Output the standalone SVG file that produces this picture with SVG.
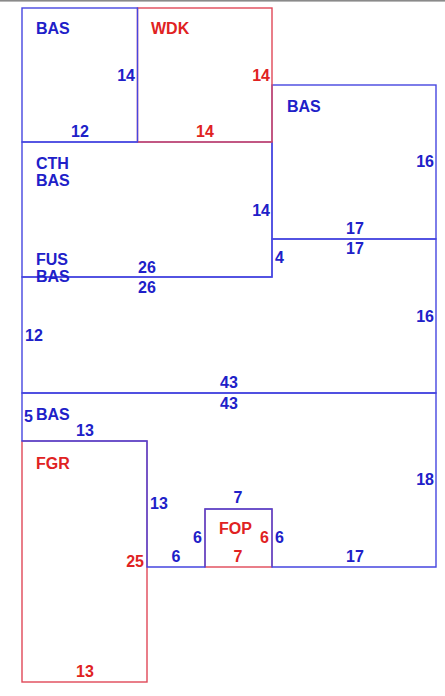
<svg xmlns="http://www.w3.org/2000/svg" width="445" height="696" viewBox="0 0 445 696">
<style>
.b{fill:none;stroke:#4646e0;stroke-width:1.4}
.r{fill:none;stroke:#e04858;stroke-width:1.4}
text{font-family:"Liberation Sans",Arial,sans-serif;font-size:16px;font-weight:bold}
.tb{fill:#2020c8}
.tr{fill:#e02222}
.m{text-anchor:middle}
.e{text-anchor:end}
</style>
<rect x="0" y="0" width="445" height="1.6" fill="#8a8a8a"/>
<g id="FGR">
<rect class="r" x="22" y="441" width="125" height="241"/>
<text class="tr" x="36" y="469">FGR</text>
<text class="tr m" x="85" y="677">13</text>
<text class="tr e" x="144" y="567">25</text>
</g>
<g id="FOP">
<rect class="r" x="205" y="509" width="67" height="58"/>
<text class="tr" x="219" y="534">FOP</text>
<text class="tr" x="260" y="543">6</text>
<text class="tr m" x="238" y="562">7</text>
</g>
<g id="BAS-right">
<rect class="b" x="272" y="85" width="164" height="154"/>
<text class="tb" x="287" y="112">BAS</text>
<text class="tb e" x="434" y="167">16</text>
<text class="tb m" x="355" y="234">17</text>
</g>
<g id="CTH">
<rect class="b" x="22" y="142" width="250" height="135"/>
<text class="tb" x="36" y="169">CTH</text>
<text class="tb" x="36" y="186">BAS</text>
<text class="tb e" x="270" y="216">14</text>
<text class="tb m" x="147" y="273">26</text>
</g>
<g id="WDK">
<rect class="r" x="137.5" y="8" width="134.5" height="134"/>
<text class="tr" x="151" y="34">WDK</text>
<text class="tr e" x="270" y="81">14</text>
<text class="tr m" x="205" y="137">14</text>
</g>
<g id="BAS-top">
<rect class="b" x="22" y="8" width="115.5" height="134"/>
<text class="tb" x="36" y="34">BAS</text>
<text class="tb e" x="135" y="81">14</text>
<text class="tb m" x="80" y="137">12</text>
</g>
<g id="FUS">
<polygon class="b" points="22,277 272,277 272,239 436,239 436,393 22,393"/>
<text class="tb" x="36" y="265">FUS</text>
<text class="tb" x="36" y="282">BAS</text>
<text class="tb m" x="147" y="293">26</text>
<text class="tb m" x="355" y="254">17</text>
<text class="tb" x="275" y="263">4</text>
<text class="tb" x="25" y="341">12</text>
<text class="tb e" x="434" y="322">16</text>
<text class="tb m" x="229" y="388">43</text>
</g>
<g id="BAS-lower">
<polygon class="b" points="22,393 436,393 436,567 272,567 272,509 205,509 205,567 147,567 147,441 22,441"/>
<text class="tb" x="24" y="422">5</text>
<text class="tb" x="36" y="420">BAS</text>
<text class="tb m" x="229" y="409">43</text>
<text class="tb m" x="85" y="436">13</text>
<text class="tb e" x="434" y="485">18</text>
<text class="tb" x="150" y="509">13</text>
<text class="tb m" x="238" y="503">7</text>
<text class="tb e" x="202" y="543">6</text>
<text class="tb" x="275" y="543">6</text>
<text class="tb m" x="176" y="562">6</text>
<text class="tb m" x="355" y="562">17</text>
</g>
</svg>
